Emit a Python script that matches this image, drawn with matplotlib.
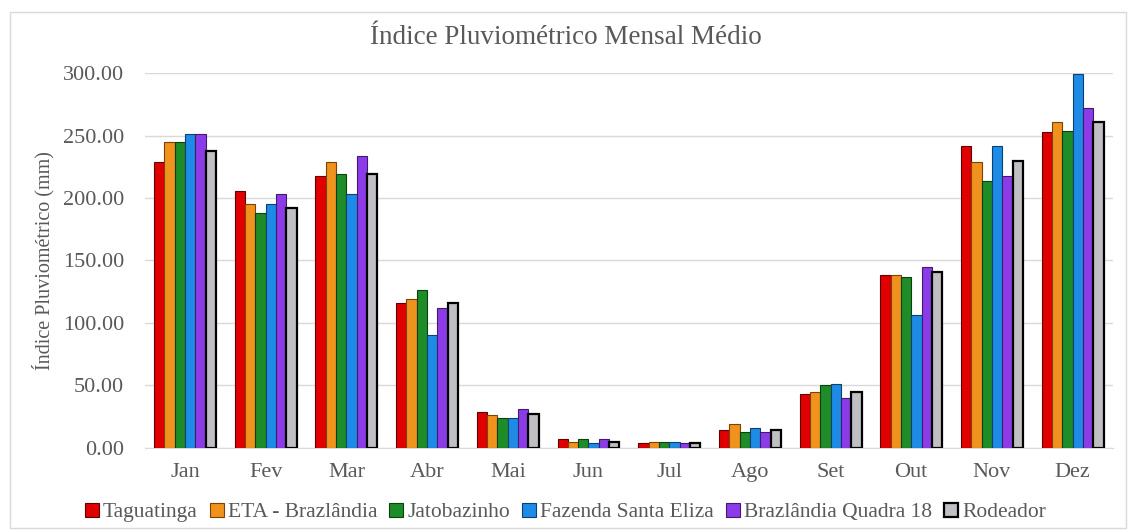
import matplotlib.pyplot as plt
import numpy as np

# Índice pluviométrico médio por mês (mm) em cada estação
meses = ['Jan', 'Fev', 'Mar', 'Abr', 'Mai', 'Jun', 'Jul', 'Ago', 'Set', 'Out', 'Nov', 'Dez']
estacoes = ['Taguatinga', 'ETA - Brazlândia', 'Jatobazinho',
            'Fazenda Santa Eliza', 'Brazlândia Quadra 18', 'Rodeador']

taguatinga = [229, 206, 218, 116, 29, 7, 4, 14.5, 43, 138, 242, 253]
eta_brazlandia = [245, 195, 229, 119, 26, 5, 5, 19, 45, 138, 229, 261]
jatobazinho = [245, 188, 219, 126, 24, 7, 5, 13, 50, 137, 214, 254]
fazenda_santa_eliza = [251, 195, 203, 90, 24, 3.5, 5, 16, 51, 106, 242, 299]
brazlandia_q18 = [251, 203, 234, 112, 31, 7, 4, 13, 40, 145, 218, 272]
rodeador = [238, 192, 219, 116, 27, 5, 4, 14.5, 45, 141, 230, 261]

series = [taguatinga, eta_brazlandia, jatobazinho,
          fazenda_santa_eliza, brazlandia_q18, rodeador]
cores = ['#e00000', '#f0921e', '#1e8c28', '#1e8ce6', '#8c3ce6', '#c0c0c4']
bordas = ['#600000', '#804000', '#0c400c', '#0c4070', '#401a70', '#000000']
espessura = [0.8, 0.8, 0.8, 0.8, 0.8, 1.6]

plt.rcParams['font.family'] = ['Liberation Serif', 'DejaVu Serif']
cinza = '#595959'

fig = plt.figure(figsize=(11.31, 5.30), dpi=100)
ax = fig.add_axes([0.128, 0.155, 0.856, 0.707])

x = np.arange(len(meses))
largura = 0.128
for i, (valores, nome) in enumerate(zip(series, estacoes)):
    ax.bar(x + (i - 2.5) * largura, valores, largura, color=cores[i],
           edgecolor=bordas[i], linewidth=espessura[i], label=nome, zorder=3)

ax.set_xlim(-0.5, len(meses) - 0.5)
ax.set_ylim(0, 300)
ax.set_yticks(np.arange(0, 301, 50))
ax.set_yticklabels([f'{v:.2f}' for v in np.arange(0, 301, 50)])
ax.set_xticks(x)
ax.set_xticklabels(meses)
ax.tick_params(length=0, labelsize=16, colors=cinza)
ax.tick_params(axis='y', pad=15)
ax.tick_params(axis='x', pad=11)
ax.grid(axis='y', color='#d9d9d9', linewidth=1, zorder=0)
for lado in ['top', 'right', 'left']:
    ax.spines[lado].set_visible(False)
ax.spines['bottom'].set_color('#d9d9d9')

ax.set_ylabel('Índice Pluviométrico (mm)', fontsize=14.5, color=cinza, labelpad=6)
fig.text(0.5, 0.93, 'Índice Pluviométrico Mensal Médio', ha='center', va='center',
         fontsize=19.5, color=cinza)

ax.legend(loc='center', bbox_to_anchor=(0.5, 0.033), bbox_transform=fig.transFigure,
          ncol=6, frameon=False, fontsize=15.5, handlelength=0.65, handleheight=0.65,
          handletextpad=0.2, columnspacing=0.55, labelcolor=cinza)

# moldura em volta do gráfico
fig.patches.append(plt.Rectangle((0.009, 0.004), 0.987, 0.974, transform=fig.transFigure,
                                 fill=False, edgecolor='#d9d9d9', linewidth=1))

fig.savefig('out.png', dpi=100)
